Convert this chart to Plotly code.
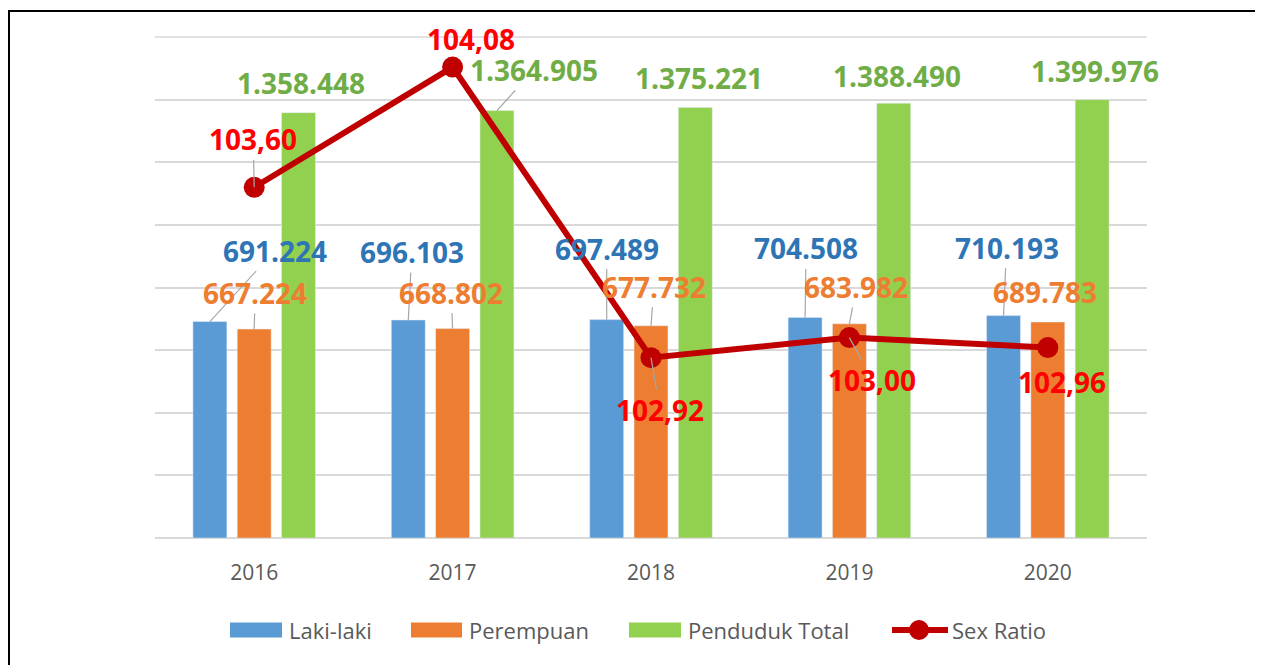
import plotly.graph_objects as go

# ---------------- data ----------------
years = ["2016", "2017", "2018", "2019", "2020"]
laki = [691224, 696103, 697489, 704508, 710193]
perempuan = [667224, 668802, 677732, 683982, 689783]
total = [1358448, 1364905, 1375221, 1388490, 1399976]
sex_ratio = [103.60, 104.08, 102.92, 103.00, 102.96]

# ---------------- layout geometry (page pixels; page has an 8px body margin) ----------------
OFF = 8
W, H = 1263, 665
PX0, PX1, PY0, PY1 = 155, 1147, 37, 538   # plot area on the page
L = PX0 - OFF
T = PY0 - OFF
R = W - (PX1 - OFF)
B = H - (PY1 - OFF)
PW, PH = PX1 - PX0, PY1 - PY0

def px2x(px):
    return (px - PX0) / PW

def px2y(py):
    return (PY1 - py) / PH

fmt_dot = lambda v: f"{v:,}".replace(",", ".")
fmt_comma = lambda v: f"{v:.2f}".replace(".", ",")

C_BLUE, C_ORANGE, C_GREEN, C_RED = "#5B9BD5", "#ED7D31", "#92D050", "#C00000"
T_BLUE, T_ORANGE, T_GREEN, T_RED = "#2E75B6", "#ED7D31", "#70AD47", "#FF0000"
GRID = "#D9D9D9"

xs = list(range(len(years)))
slot = 0.2233

fig = go.Figure()
fig.add_bar(x=xs, y=laki, name="Laki-laki", marker_color=C_BLUE)
fig.add_bar(x=xs, y=perempuan, name="Perempuan", marker_color=C_ORANGE)
fig.add_bar(x=xs, y=total, name="Penduduk Total", marker_color=C_GREEN)
fig.add_scatter(x=xs, y=sex_ratio, name="Sex Ratio", yaxis="y2", mode="lines+markers",
                line=dict(color=C_RED, width=6), marker=dict(color=C_RED, size=21))

# label offsets (pixels, text centre relative to anchor), leader line flag
blue_off = [(65, -71, True), (3.5, -68, True), (0, -71, True), (1, -69, True), (3, -68, True)]
orange_off = [(1, -36, True), (-1.5, -36, True), (3, -39, True), (7, -37, True), (-3, -30, False)]
green_off = [(2.5, -30, False), (37, -40.6, True), (3.5, -29.4, False), (3, -27.3, False), (3, -28.7, False)]
red_off = [(-1, -48, True), (18.5, -27.6, False), (9, 52, True), (23, 42, True), (14, 34, False)]

ann = []
lab_font = dict(family="Open Sans", size=28)

def add_labels(values, dx, offs, color, yref, fmt):
    for i, v in enumerate(values):
        ax, ay, arrow = offs[i]
        a = dict(x=xs[i] + dx, y=v, xref="x", yref=yref, text=f"<b>{fmt(v)}</b>",
                 font=dict(lab_font, color=color))
        if arrow:
            a.update(showarrow=True, ax=ax, ay=ay, arrowhead=0, arrowwidth=1.2,
                     arrowcolor="#A6A6A6", standoff=0, startstandoff=0)
        else:
            a.update(showarrow=False, xshift=ax, yshift=-ay)
        ann.append(a)

add_labels(laki, -slot, blue_off, T_BLUE, "y", fmt_dot)
add_labels(perempuan, 0, orange_off, T_ORANGE, "y", fmt_dot)
add_labels(total, slot, green_off, T_GREEN, "y", fmt_dot)
add_labels(sex_ratio, 0, red_off, T_RED, "y2", fmt_comma)

shapes = []
# top gridline (plotly omits the grid line on the range edge)
shapes.append(dict(type="line", xref="paper", yref="paper", x0=0, x1=1, y0=1, y1=1,
                   line=dict(color=GRID, width=1.5), layer="below"))

# ---------------- custom legend ----------------
leg_y = 630
leg_font = dict(family="Open Sans", size=22, color="#595959")
leg_items = [("Laki-laki", C_BLUE, 230, 282, 287),
             ("Perempuan", C_ORANGE, 411, 462, 467),
             ("Penduduk Total", C_GREEN, 629, 681, 686)]
for name, col, x0, x1, tx in leg_items:
    shapes.append(dict(type="rect", xref="paper", yref="paper", x0=px2x(x0), x1=px2x(x1),
                       y0=px2y(leg_y - 7.5), y1=px2y(leg_y + 7.5), fillcolor=col, line_width=0))
    ann.append(dict(x=px2x(tx), y=px2y(leg_y), xref="paper", yref="paper", text=name,
                    showarrow=False, xanchor="left", yanchor="middle", font=leg_font))
shapes.append(dict(type="line", xref="paper", yref="paper", x0=px2x(892), x1=px2x(948),
                   y0=px2y(leg_y), y1=px2y(leg_y), line=dict(color=C_RED, width=6)))
shapes.append(dict(type="circle", xref="paper", yref="paper", x0=px2x(909), x1=px2x(929),
                   y0=px2y(leg_y - 10), y1=px2y(leg_y + 10), fillcolor=C_RED, line_width=0))
ann.append(dict(x=px2x(950), y=px2y(leg_y), xref="paper", yref="paper", text="Sex Ratio",
                showarrow=False, xanchor="left", yanchor="middle", font=leg_font))

# outer frame (left edge limited by the page margin)
shapes.append(dict(type="rect", xref="paper", yref="paper", x0=px2x(9), x1=px2x(1261),
                   y0=px2y(690), y1=px2y(11), line=dict(color="#000000", width=2),
                   fillcolor="rgba(0,0,0,0)", layer="above"))

fig.update_layout(
    width=W, height=H, margin=dict(l=L, r=R, t=T, b=B),
    paper_bgcolor="white", plot_bgcolor="white",
    barmode="group", bargap=0.33, bargroupgap=0.234,
    showlegend=False,
    xaxis=dict(range=[-0.5, 4.5], tickvals=xs, ticktext=years, showgrid=False,
               zeroline=False, showline=False, ticks="", ticklabelstandoff=20,
               tickfont=dict(family="Open Sans", size=21, color="#595959")),
    yaxis=dict(range=[0, 1600000], dtick=200000, showgrid=True, gridcolor=GRID,
               gridwidth=1.5, zeroline=True, zerolinecolor=GRID, zerolinewidth=1.5,
               showticklabels=False, ticks=""),
    yaxis2=dict(range=[102.2, 104.2], overlaying="y", side="right", showgrid=False,
                zeroline=False, showticklabels=False, ticks=""),
    annotations=ann, shapes=shapes,
)

fig.write_html("out.html")
